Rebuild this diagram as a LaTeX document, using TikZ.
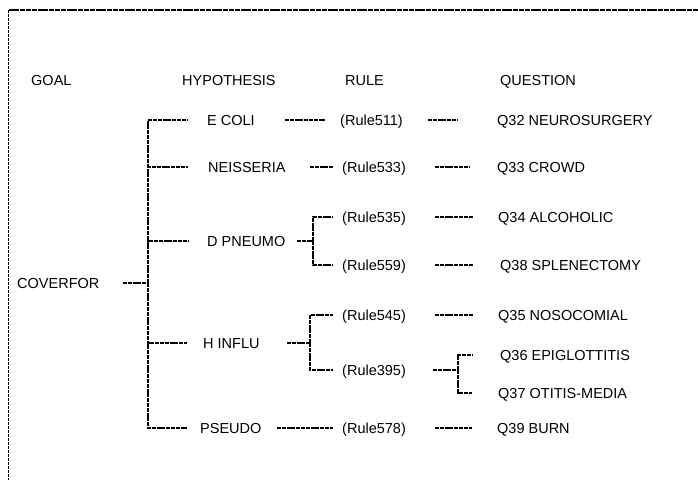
\documentclass[tikz,border=0pt]{standalone}
\usepackage{fontspec}
\setmainfont{Liberation Sans}
\usetikzlibrary{calc}
\begin{document}
\begin{tikzpicture}[x=1pt,y=-1pt,
  lbl/.style={inner sep=0pt, anchor=west, font=\fontsize{14.5}{16}\selectfont, text height=10.4pt, text depth=0pt},
  conn/.style={draw=black, line width=1.1pt, dash pattern=on 4pt off 0.8pt},
  frametop/.style={draw=black, line width=1.4pt, dash pattern=on 5pt off 0.8pt},
  frameleft/.style={draw=black, line width=1pt, dash pattern=on 3pt off 1pt}]
\useasboundingbox (0,0) rectangle (698,480);
\fill[white] (0,0) rectangle (698,480);
% frame
\coordinate (ftl) at (8,10);
\coordinate (ftr) at (698,10);
\coordinate (fbl) at (8,480);
\draw[frametop] (ftr) -- (ftl);
\draw[frameleft] (ftl) -- (fbl);
% headers
\node[lbl] (hgoal) at (31,80) {GOAL};
\node[lbl] (hhyp) at (182,80) {HYPOTHESIS};
\node[lbl] (hrule) at (345,80) {RULE};
\node[lbl] (hq) at (500,80) {QUESTION};
% goal
\node[lbl] (coverfor) at (17,283) {COVERFOR};
\coordinate (jc) at (148,283);
% hypotheses
\node[lbl] (ecoli) at (207,120) {E COLI};
\node[lbl] (neis) at (208,167) {NEISSERIA};
\node[lbl] (dp) at (207,241) {D PNEUMO};
\node[lbl] (hinf) at (203,343) {H INFLU};
\node[lbl] (pseudo) at (200,428) {PSEUDO};
% rules
\node[lbl] (r511) at (340,120) {(Rule511)};
\node[lbl] (r533) at (342,167) {(Rule533)};
\node[lbl] (r535) at (342,217) {(Rule535)};
\node[lbl] (r559) at (342,265) {(Rule559)};
\node[lbl] (r545) at (342,315) {(Rule545)};
\node[lbl] (r395) at (342,370) {(Rule395)};
\node[lbl] (r578) at (342,428) {(Rule578)};
% questions
\node[lbl] (q32) at (497,120) {Q32 NEUROSURGERY};
\node[lbl] (q33) at (497,167) {Q33 CROWD};
\node[lbl] (q34) at (498,217) {Q34 ALCOHOLIC};
\node[lbl] (q38) at (500,265) {Q38 SPLENECTOMY};
\node[lbl] (q35) at (498,315) {Q35 NOSOCOMIAL};
\node[lbl] (q36) at (500,355) {Q36 EPIGLOTTITIS};
\node[lbl] (q37) at (498,393) {Q37 OTITIS-MEDIA};
\node[lbl] (q39) at (497,428) {Q39 BURN};
% junctions
\coordinate (bdp) at (313,241);
\coordinate (bhi) at (310,343);
\coordinate (brl) at (458,370);
% goal to trunk
\draw[conn] ([xshift=106pt]coverfor.west) -- (jc);
% trunk and branches
\draw[conn] (jc) |- ([xshift=-19pt]ecoli.west);
\draw[conn] (jc) |- ([xshift=-20pt]neis.west);
\draw[conn] (jc) |- ([xshift=-19pt]dp.west);
\draw[conn] (jc) |- ([xshift=-16pt]hinf.west);
\draw[conn] (jc) |- ([xshift=-13pt]pseudo.west);
% hypothesis to rule
\draw[conn] ([xshift=78pt]ecoli.west) -- ([xshift=-15pt]r511.west);
\draw[conn] ([xshift=102pt]neis.west) -- ([xshift=-9pt]r533.west);
\draw[conn] ([xshift=90pt]dp.west) -- (bdp);
\draw[conn] (bdp) |- ([xshift=-9pt]r535.west);
\draw[conn] (bdp) |- ([xshift=-9pt]r559.west);
\draw[conn] ([xshift=84pt]hinf.west) -- (bhi);
\draw[conn] (bhi) |- ([xshift=-9pt]r545.west);
\draw[conn] (bhi) |- ([xshift=-9pt]r395.west);
\draw[conn] ([xshift=77pt]pseudo.west) -- ([xshift=-9pt]r578.west);
% rule to question
\draw[conn] ([xshift=88pt]r511.west) -- ([xshift=-39pt]q32.west);
\draw[conn] ([xshift=93pt]r533.west) -- ([xshift=-27pt]q33.west);
\draw[conn] ([xshift=93pt]r535.west) -- ([xshift=-25pt]q34.west);
\draw[conn] ([xshift=93pt]r559.west) -- ([xshift=-27pt]q38.west);
\draw[conn] ([xshift=93pt]r545.west) -- ([xshift=-25pt]q35.west);
\draw[conn] ([xshift=91pt]r395.west) -- (brl);
\draw[conn] (brl) |- ([xshift=-28pt]q36.west);
\draw[conn] (brl) |- ([xshift=-26pt]q37.west);
\draw[conn] ([xshift=93pt]r578.west) -- ([xshift=-25pt]q39.west);
\end{tikzpicture}
\end{document}
